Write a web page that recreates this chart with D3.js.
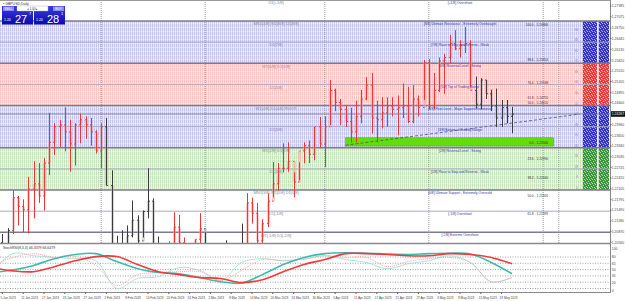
<!DOCTYPE html>
<html>
<head>
<meta charset="utf-8">
<script src="https://cdn.jsdelivr.net/npm/d3@7"></script>
<style>
body { margin: 0; background: #fff; }
svg { display: block; font-family: "Liberation Sans", Arial, sans-serif; }
</style>
</head>
<body>
<svg id="chart" width="625" height="301"></svg>
<script>
// daily bars, GBPUSD
var dates = ["2023-01-03","2023-01-04","2023-01-05","2023-01-06","2023-01-09","2023-01-10","2023-01-11","2023-01-12","2023-01-13","2023-01-16",
  "2023-01-17","2023-01-18","2023-01-19","2023-01-20","2023-01-23","2023-01-24","2023-01-25","2023-01-26","2023-01-27","2023-01-30",
  "2023-01-31","2023-02-01","2023-02-02","2023-02-03","2023-02-06","2023-02-07","2023-02-08","2023-02-09","2023-02-10","2023-02-13",
  "2023-02-14","2023-02-15","2023-02-16","2023-02-17","2023-02-20","2023-02-21","2023-02-22","2023-02-23","2023-02-24","2023-02-27",
  "2023-02-28","2023-03-01","2023-03-02","2023-03-03","2023-03-06","2023-03-07","2023-03-08","2023-03-09","2023-03-10","2023-03-13",
  "2023-03-14","2023-03-15","2023-03-16","2023-03-17","2023-03-20","2023-03-21","2023-03-22","2023-03-23","2023-03-24","2023-03-27",
  "2023-03-28","2023-03-29","2023-03-30","2023-03-31","2023-04-03","2023-04-04","2023-04-05","2023-04-06","2023-04-07","2023-04-10",
  "2023-04-11","2023-04-12","2023-04-13","2023-04-14","2023-04-17","2023-04-18","2023-04-19","2023-04-20","2023-04-21","2023-04-24",
  "2023-04-25","2023-04-26","2023-04-27","2023-04-28","2023-05-01","2023-05-02","2023-05-03","2023-05-04","2023-05-05","2023-05-08",
  "2023-05-09","2023-05-10","2023-05-11","2023-05-12","2023-05-15","2023-05-16","2023-05-17","2023-05-18","2023-05-19","2023-05-22",
  "2023-05-23"];
var opens = [1.2085,1.1965,1.2055,1.1940,1.2090,1.2185,1.2160,1.2150,1.2210,1.2225,
  1.2190,1.2285,1.2345,1.2390,1.2395,1.2375,1.2340,1.2395,1.2410,1.2395,
  1.2375,1.2320,1.2390,1.2220,1.2050,1.2020,1.2050,1.2075,1.2120,1.2060,
  1.2145,1.2175,1.2040,1.2020,1.2030,1.2040,1.2100,1.2055,1.2010,1.1945,
  1.2065,1.2095,1.2015,1.1940,1.2030,1.2040,1.1825,1.1840,1.1940,1.2040,
  1.2170,1.2140,1.2060,1.2110,1.2175,1.2225,1.2270,1.2270,1.2290,1.2230,
  1.2320,1.2335,1.2310,1.2390,1.2340,1.2390,1.2495,1.2460,1.2440,1.2405,
  1.2375,1.2420,1.2470,1.2510,1.2415,1.2410,1.2430,1.2450,1.2440,1.2445,
  1.2450,1.2405,1.2470,1.2445,1.2575,1.2450,1.2495,1.2580,1.2590,1.2630,
  1.2615,1.2625,1.2630,1.2495,1.2455,1.2525,1.2485,1.2450,1.2415,1.2445,
  1.2420];
var highs = [1.2110,1.2075,1.2080,1.2097,1.2207,1.2190,1.2180,1.2245,1.2290,1.2285,
  1.2300,1.2430,1.2400,1.2410,1.2446,1.2410,1.2400,1.2428,1.2420,1.2415,
  1.2380,1.2400,1.2415,1.2264,1.2075,1.2091,1.2105,1.2177,1.2134,1.2148,
  1.2270,1.2183,1.2073,1.2040,1.2059,1.2143,1.2135,1.2070,1.2020,1.2064,
  1.2140,1.2085,1.2030,1.2040,1.2050,1.2062,1.1860,1.1955,1.2110,1.2198,
  1.2185,1.2170,1.2123,1.2198,1.2288,1.2285,1.2342,1.2345,1.2258,1.2287,
  1.2345,1.2350,1.2389,1.2418,1.2420,1.2525,1.2500,1.2470,1.2452,1.2445,
  1.2465,1.2496,1.2533,1.2545,1.2465,1.2475,1.2475,1.2475,1.2480,1.2515,
  1.2505,1.2510,1.2480,1.2583,1.2585,1.2545,1.2590,1.2600,1.2655,1.2669,
  1.2640,1.2678,1.2640,1.2535,1.2530,1.2525,1.2497,1.2500,1.2467,1.2467,
  1.2447];
var lows = [1.1900,1.1950,1.1930,1.1840,1.2080,1.2105,1.2085,1.2082,1.2125,1.2170,
  1.2148,1.2250,1.2308,1.2331,1.2319,1.2260,1.2278,1.2342,1.2355,1.2335,
  1.2313,1.2270,1.2221,1.2045,1.1960,1.1990,1.2030,1.2070,1.2030,1.2070,
  1.2125,1.2020,1.1960,1.1915,1.2000,1.2000,1.2020,1.1975,1.1925,1.1925,
  1.2030,1.1990,1.1920,1.1935,1.1980,1.1820,1.1802,1.1830,1.1910,1.2040,
  1.2110,1.2010,1.2020,1.2100,1.2186,1.2205,1.2258,1.2260,1.2186,1.2235,
  1.2284,1.2285,1.2293,1.2328,1.2273,1.2395,1.2435,1.2395,1.2389,1.2345,
  1.2345,1.2400,1.2467,1.2370,1.2345,1.2385,1.2390,1.2420,1.2365,1.2415,
  1.2400,1.2400,1.2420,1.2467,1.2440,1.2440,1.2490,1.2485,1.2574,1.2611,
  1.2590,1.2603,1.2504,1.2443,1.2440,1.2470,1.2435,1.2389,1.2389,1.2400,
  1.2371];
var closes = [1.1965,1.2055,1.1940,1.2090,1.2185,1.2160,1.2150,1.2210,1.2225,1.2190,
  1.2285,1.2345,1.2390,1.2395,1.2375,1.2340,1.2395,1.2410,1.2395,1.2375,
  1.2320,1.2390,1.2220,1.2050,1.2020,1.2050,1.2075,1.2120,1.2060,1.2145,
  1.2175,1.2040,1.2020,1.2030,1.2040,1.2100,1.2055,1.2010,1.1945,1.2065,
  1.2095,1.2015,1.1940,1.2030,1.2040,1.1825,1.1840,1.1940,1.2040,1.2170,
  1.2140,1.2060,1.2110,1.2175,1.2225,1.2270,1.2270,1.2290,1.2230,1.2320,
  1.2335,1.2310,1.2390,1.2340,1.2390,1.2495,1.2460,1.2440,1.2405,1.2375,
  1.2420,1.2470,1.2510,1.2415,1.2410,1.2430,1.2450,1.2440,1.2445,1.2450,
  1.2405,1.2470,1.2445,1.2575,1.2450,1.2495,1.2580,1.2590,1.2630,1.2615,
  1.2625,1.2630,1.2495,1.2455,1.2525,1.2485,1.2450,1.2415,1.2445,1.2420,
  1.24267];

// murrey math levels
var levelNames = ["+1/8","8/8","7/8","6/8","5/8","4/8","3/8","2/8","1/8","0/8","-1/8","-2/8"];
var levelPrices = [1.27563,1.26953,1.26343,1.25732,1.25122,1.24512,1.23901,1.23291,1.22681,1.22070,1.21460,1.20850];
var leftTags = ["D1[+1/8]","MN1[4/8] W1[8/8] D1[8/8]","D1[7/8]","W1[6/8] D1[6/8]","D1[5/8]","W1[4/8] D1[4/8] PIVOT",
  "D1[3/8]","W1[2/8] D1[2/8]","D1[1/8]","MN1[3/8] W1[0/8] D1[0/8]","D1[-1/8]","W1[-1/8] D1[-2/8]"];
var rightTags = ["[+1/8] Overshoot","[8/8] Ultimate Resistance - Extremely Overbought","[7/8] Place to Stop and Reverse - Weak",
  "[6/8] Reversal Level - Strong","[5/8] Top of Trading Range","[4/8] Pivot Level - Major Support/Resistance",
  "[3/8] Bottom of Trading Range","[2/8] Reversal Level - Strong","[1/8] Place to Stop and Reverse - Weak",
  "[0/8] Ultimate Support - Extremely Oversold","[-1/8] Overshoot","[-2/8] Extreme Overshoot"];

// fibo-style texts on the right
var fibTexts = ["100.0 - 1.26866","88.6 - 1.25854","76.4 - 1.25188","61.8 - 1.24755","50.0 - 1.24610",
  "0.0 - 1.23340","23.6 - 1.22990","38.2 - 1.22440","50.0 - 1.21920","61.8 - 1.21399"];
var fibPrices = [1.26866,1.25854,1.25188,1.24755,1.24610,1.23453,1.22990,1.22440,1.21920,1.21399];

var axisTicks = ["1.27385","1.27075","1.26750","1.26445","1.26135","1.25820","1.25510","1.25205","1.24895","1.24600",
  "1.23960","1.23650","1.23340","1.23035","1.22725","1.22415","1.22105","1.21795","1.21490","1.21180","1.20870","1.20560"];
var currentPrice = 1.24267;

// stochastic, sampled every 4 bars (bar 0, 4, 8 ... 100)
var stochIdx = [0,4,8,12,16,20,24,28,32,36,40,44,48,52,56,60,64,68,72,76,80,84,88,92,96,100];
var stochSignal = [55,47,45,57,71,81,81,62,45,38,31,29,19,26,45,62,74,88,88,86,83,83,88,86,79,64];
var stochMain   = [43,49,60,76,86,88,69,52,43,40,31,21,18,38,62,79,88,90,89,87,86,88,89,87,67,40];
var fastA = [60,79,88,79,81,60,12,38,43,45,45,24,48,74,71,74,83,79,79,57,69,76,79,67,21,31];
var fastB = [43,88,83,79,76,71,5,29,33,55,48,24,67,76,71,76,83,74,67,52,64,71,83,67,21,31];
var stochLevels = [80,65,50,35,20,5];
var stochLabels = [100,80,65,50,35,20,0];

var separators = [21,41,64,84,106,109];
var zone = {from: 68, to: 108, low: 1.23340, high: 1.23580};
var trend = [[68, 1.23366],[113, 1.24263]];

var svg = d3.select("#chart");
var plotRight = 610, mainBottom = 243, stochTop = 244, stochBottom = 292;

var x = d3.scaleLinear().domain([0, 100]).range([-8, 512]);
var y = d3.scaleLinear().domain([1.20850, 1.26953]).range([232.3, 21]);
var ys = d3.scaleLinear().domain([0, 100]).range([290.6, 248.6]);

var defs = svg.append("defs");
defs.append("clipPath").attr("id", "clipMain").append("rect")
    .attr("x", 0).attr("y", 0).attr("width", plotRight).attr("height", mainBottom);
defs.append("clipPath").attr("id", "clipStoch").append("rect")
    .attr("x", 0).attr("y", stochTop).attr("width", plotRight).attr("height", stochBottom - stochTop);

function bandPattern(id, base) {
    var p = defs.append("pattern").attr("id", id).attr("width", 2).attr("height", 4)
        .attr("patternUnits", "userSpaceOnUse");
    p.append("rect").attr("width", 2).attr("height", 4).attr("fill", base);
    p.append("rect").attr("x", 1).attr("width", 1).attr("height", 4).attr("fill", "#fff").attr("opacity", 0.6);
    p.append("rect").attr("y", 3).attr("width", 2).attr("height", 1).attr("fill", "#fff").attr("opacity", 0.3);
}
bandPattern("pBlue", "#c4c4f2");
bandPattern("pRed", "#ffc0c0");
bandPattern("pGreen", "#c6e4bc");

function noisePattern(id, base) {
    var p = defs.append("pattern").attr("id", id).attr("width", 5).attr("height", 4)
        .attr("patternUnits", "userSpaceOnUse");
    p.append("rect").attr("width", 5).attr("height", 4).attr("fill", base);
    [[0,0],[3,1],[1,2],[4,3],[2,3]].forEach(function (d) {
        p.append("rect").attr("x", d[0]).attr("y", d[1]).attr("width", 1).attr("height", 1)
            .attr("fill", "#fff").attr("opacity", 0.6);
    });
}
noisePattern("nBlue", "#3434c8");
noisePattern("nRed", "#f23c3c");
noisePattern("nGreen", "#3a963a");

var main = svg.append("g").attr("clip-path", "url(#clipMain)");

// coloured bands between murrey levels
var bands = [[1, 3, "pBlue", "nBlue"], [3, 5, "pRed", "nRed"], [5, 7, "pBlue", "nBlue"], [7, 9, "pGreen", "nGreen"]];
bands.forEach(function (b) {
    var y0 = y(levelPrices[b[0]]), y1 = y(levelPrices[b[1]]);
    main.append("rect").attr("x", 0).attr("y", y0).attr("width", plotRight).attr("height", y1 - y0)
        .attr("fill", "url(#" + b[2] + ")");
    main.append("rect").attr("x", 583).attr("y", y0).attr("width", 14).attr("height", y1 - y0)
        .attr("fill", "url(#" + b[3] + ")");
    main.append("rect").attr("x", 599).attr("y", y0).attr("width", 10).attr("height", y1 - y0)
        .attr("fill", "url(#" + b[3] + ")");
});

// separators
separators.forEach(function (s) {
    main.append("line").attr("x1", x(s)).attr("x2", x(s)).attr("y1", 0).attr("y2", stochBottom)
        .attr("stroke", "#9a9a9a").attr("stroke-width", 1).attr("stroke-dasharray", "1,1");
});

// murrey lines
levelPrices.forEach(function (p, i) {
    var major = (i % 2 === 1) || i === 11;
    main.append("line").attr("x1", 0).attr("x2", plotRight).attr("y1", y(p)).attr("y2", y(p))
        .attr("stroke", major ? "#7c7c8c" : "#a8a8bc").attr("stroke-width", major ? 1.5 : 1);
});

// small half-step numbers near the right blocks
d3.range(1, 17).forEach(function (k) {
    var p = levelPrices[1] - k * (levelPrices[1] - levelPrices[9]) / 16;
    main.append("text").attr("x", 578).attr("y", y(p) - 1).attr("text-anchor", "end")
        .attr("font-size", 3).attr("fill", "#8888aa").text(Math.round(100 - k * 6.25));
});

// green zone
main.append("rect").attr("x", x(zone.from)).attr("y", y(zone.high))
    .attr("width", x(zone.to) - x(zone.from)).attr("height", y(zone.low) - y(zone.high))
    .attr("fill", "#62dc0a").attr("stroke", "#4aa010").attr("stroke-width", 0.5);

// current price line
main.append("line").attr("x1", 0).attr("x2", plotRight).attr("y1", y(currentPrice)).attr("y2", y(currentPrice))
    .attr("stroke", "#777").attr("stroke-width", 0.8);

// trend line
main.append("line").attr("x1", x(trend[0][0])).attr("y1", y(trend[0][1]))
    .attr("x2", x(trend[1][0])).attr("y2", y(trend[1][1]))
    .attr("stroke", "#555").attr("stroke-width", 0.8).attr("stroke-dasharray", "3,2");

// stochastic values at each bar (for bar colouring)
function stochAt(arr, i) {
    var k = i / 4, lo = Math.floor(k), hi = Math.min(lo + 1, arr.length - 1), f = k - lo;
    return arr[lo] + (arr[hi] - arr[lo]) * f;
}

// OHLC bars
var bars = main.append("g");
dates.forEach(function (d, i) {
    var up = stochAt(stochMain, i) >= stochAt(stochSignal, i);
    var col = up ? "#f03434" : "#3a3a3a";
    var bx = Math.round(x(i)) + 0.5;
    var top = Math.min(opens[i], closes[i]), bot = Math.max(opens[i], closes[i]);
    bars.append("rect").attr("x", bx - 1.5).attr("y", y(bot)).attr("width", 3)
        .attr("height", Math.max(1, y(top) - y(bot)))
        .attr("fill", up ? "#ff9c9c" : "#b4b4b4").attr("opacity", 0.5);
    bars.append("line").attr("x1", bx).attr("x2", bx).attr("y1", y(highs[i])).attr("y2", y(lows[i]))
        .attr("stroke", col).attr("stroke-width", 1);
    bars.append("line").attr("x1", bx - 1.5).attr("x2", bx).attr("y1", y(opens[i])).attr("y2", y(opens[i]))
        .attr("stroke", col).attr("stroke-width", 0.9);
    bars.append("line").attr("x1", bx).attr("x2", bx + 1.5).attr("y1", y(closes[i])).attr("y2", y(closes[i]))
        .attr("stroke", col).attr("stroke-width", 0.9);
});

// level texts
levelPrices.forEach(function (p, i) {
    main.append("text").attr("x", 276).attr("y", y(p) + 4.3).attr("text-anchor", "middle")
        .attr("font-size", 4).attr("fill", "#8a8a96").text(leftTags[i]);
    main.append("text").attr("x", 460).attr("y", y(p) + 4).attr("text-anchor", "middle")
        .attr("font-size", 3.3).attr("fill", "#3838a0").text(rightTags[i]);
});
fibPrices.forEach(function (p, i) {
    main.append("text").attr("x", 548).attr("y", y(p) + 1.5).attr("text-anchor", "end")
        .attr("font-size", 3.2).attr("fill", "#333").text(fibTexts[i]);
});

// main panel borders
svg.append("line").attr("x1", 0).attr("x2", plotRight).attr("y1", 0.5).attr("y2", 0.5)
    .attr("stroke", "#9a9a9a");
svg.append("line").attr("x1", 0).attr("x2", plotRight).attr("y1", mainBottom + 0.5).attr("y2", mainBottom + 0.5)
    .attr("stroke", "#8a8a8a").attr("stroke-width", 1.5);
svg.append("line").attr("x1", plotRight + 0.5).attr("x2", plotRight + 0.5).attr("y1", 0).attr("y2", stochBottom)
    .attr("stroke", "#8a8a8a");

// price axis
axisTicks.forEach(function (t) {
    var ty = y(+t);
    svg.append("line").attr("x1", plotRight).attr("x2", plotRight + 1.5).attr("y1", ty).attr("y2", ty).attr("stroke", "#666");
    svg.append("text").attr("x", plotRight + 1.8).attr("y", ty + 1.3).attr("font-size", 3.4)
        .attr("fill", "#444").text(t);
});
svg.append("rect").attr("x", plotRight + 1).attr("y", y(currentPrice) - 2.8).attr("width", 14).attr("height", 5.6)
    .attr("fill", "#111");
svg.append("text").attr("x", plotRight + 1.8).attr("y", y(currentPrice) + 1.3).attr("font-size", 3.4)
    .attr("fill", "#fff").text(currentPrice.toFixed(5));

// stochastic panel
var st = svg.append("g").attr("clip-path", "url(#clipStoch)");
stochLevels.forEach(function (v) {
    st.append("line").attr("x1", 0).attr("x2", plotRight).attr("y1", ys(v)).attr("y2", ys(v))
        .attr("stroke", "#8a8a8a").attr("stroke-width", 0.8).attr("stroke-dasharray", "1,1.5");
});
function stochLine(arr) {
    return d3.line().x(function (d, i) { return x(stochIdx[i]); })
        .y(function (d) { return ys(d); }).curve(d3.curveCatmullRom)(arr);
}
st.append("path").attr("d", stochLine(fastB)).attr("fill", "none").attr("stroke", "#9fe2de").attr("stroke-width", 0.9);
st.append("path").attr("d", stochLine(fastA)).attr("fill", "none").attr("stroke", "#ff9aa2")
    .attr("stroke-width", 0.9).attr("stroke-dasharray", "1,1");
st.append("path").attr("d", stochLine(stochMain)).attr("fill", "none").attr("stroke", "#3cbcb0").attr("stroke-width", 1.6);
st.append("path").attr("d", stochLine(stochSignal)).attr("fill", "none").attr("stroke", "#f23a3a").attr("stroke-width", 1.6);
svg.append("text").attr("x", 3).attr("y", 249).attr("font-size", 3.5).attr("fill", "#333")
    .text("StochRSI(8,3,3) 46.3379 66.6479");
stochLabels.forEach(function (v) {
    svg.append("text").attr("x", plotRight + 1.8).attr("y", ys(v) + 1.3).attr("font-size", 3.4)
        .attr("fill", "#444").text(v);
});
svg.append("line").attr("x1", 0).attr("x2", plotRight + 1).attr("y1", stochBottom + 0.5).attr("y2", stochBottom + 0.5)
    .attr("stroke", "#8a8a8a");

// date axis
var fmt = d3.timeFormat("%-d %b %Y"), parse = d3.timeParse("%Y-%m-%d");
dates.forEach(function (d, i) {
    if (i % 4 !== 2) return;
    var tx = x(i);
    svg.append("line").attr("x1", tx).attr("x2", tx).attr("y1", stochBottom).attr("y2", stochBottom + 2).attr("stroke", "#666");
    svg.append("text").attr("x", tx - 2).attr("y", 299).attr("font-size", 3.1).attr("fill", "#444")
        .text(fmt(parse(d)));
});

// header and one-click trading panel
svg.append("text").attr("x", 3).attr("y", 4.5).attr("font-size", 3.5).attr("fill", "#333").text("\u25aa GBPUSD,Daily");
var pnl = svg.append("g");
var grad = defs.append("linearGradient").attr("id", "gBtn").attr("x1", 0).attr("x2", 0).attr("y1", 0).attr("y2", 1);
grad.append("stop").attr("offset", 0).attr("stop-color", "#3a3ae6");
grad.append("stop").attr("offset", 1).attr("stop-color", "#0a0aa8");
[[2, "SELL", "27", "7"], [34, "BUY", "28", "1"]].forEach(function (b, k) {
    pnl.append("rect").attr("x", b[0]).attr("y", 6).attr("width", 31).attr("height", 18.5).attr("fill", "url(#gBtn)");
    pnl.append("rect").attr("x", k === 0 ? b[0] + 1 : b[0] + 19).attr("y", 6.5).attr("width", 11).attr("height", 4.5)
        .attr("fill", "#8a8aff");
    pnl.append("text").attr("x", k === 0 ? b[0] + 6.5 : b[0] + 24.5).attr("y", 10).attr("text-anchor", "middle")
        .attr("font-size", 3.2).attr("fill", "#fff").text(b[1]);
    pnl.append("text").attr("x", b[0] + 2).attr("y", 21).attr("font-size", 3.5).attr("fill", "#fff").text("1.24");
    pnl.append("text").attr("x", b[0] + 13).attr("y", 23).attr("font-size", 11).attr("fill", "#fff").text(b[2]);
    pnl.append("text").attr("x", b[0] + 27).attr("y", 15).attr("font-size", 4).attr("fill", "#fff").text(b[3]);
});
pnl.append("rect").attr("x", 17).attr("y", 6).attr("width", 31).attr("height", 5).attr("fill", "#fff")
    .attr("stroke", "#aaa").attr("stroke-width", 0.4);
pnl.append("text").attr("x", 32.5).attr("y", 9.8).attr("text-anchor", "middle").attr("font-size", 3.2)
    .attr("fill", "#333").text("\u25c2      1.00      \u25b8");
</script>
</body>
</html>
